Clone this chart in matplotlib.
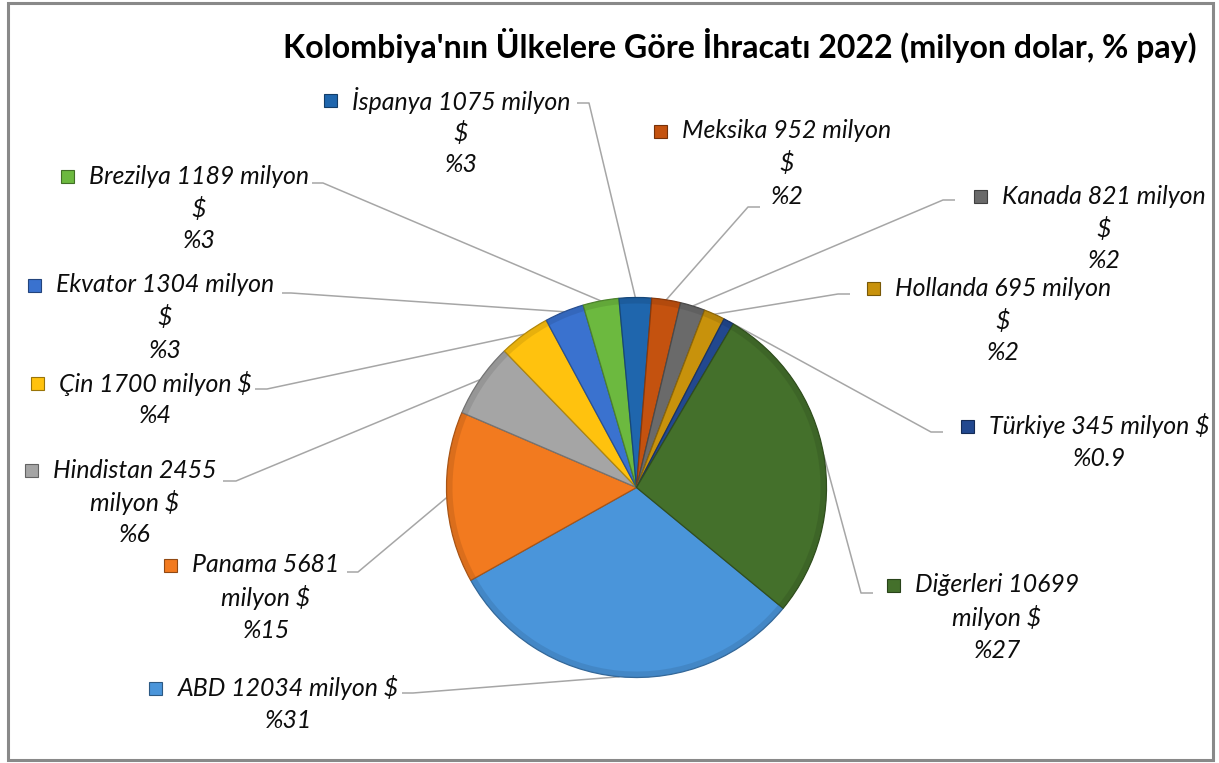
import matplotlib
matplotlib.use("Agg")
import matplotlib.pyplot as plt
from matplotlib.patches import Rectangle, Wedge
import matplotlib.colors as mcolors
import numpy as np

# ---------------- data ----------------
countries = ["ABD", "Panama", "Hindistan", "Çin", "Ekvator", "Brezilya",
             "İspanya", "Meksika", "Kanada", "Hollanda", "Türkiye", "Diğerleri"]
values = [12034, 5681, 2455, 1700, 1304, 1189, 1075, 952, 821, 695, 345, 10699]
shares = ["%31", "%15", "%6", "%4", "%3", "%3", "%3", "%2", "%2", "%2", "%0.9", "%27"]
title = "Kolombiya'nın Ülkelere Göre İhracatı 2022 (milyon dolar, % pay)"

colors = ["#4A95DA", "#F27A1F", "#A5A5A5", "#FFC20E", "#3A72CF", "#6CB93F",
          "#1F66AD", "#C4520F", "#6A6A6A", "#C8920C", "#22488F", "#44702B"]

# ---------------- layout (pixels, from top-left) ----------------
W, H = 1219, 763
CX, CY, R = 636.5, 487.5, 190
# wrap style: 'one' -> "name v milyon $"; 'b' -> "name v milyon" / "$"; 'c' -> "name v" / "milyon $"
wrap = {"ABD": "one", "Panama": "c", "Hindistan": "c", "Çin": "one", "Ekvator": "b",
        "Brezilya": "b", "İspanya": "b", "Meksika": "b", "Kanada": "b", "Hollanda": "b",
        "Türkiye": "one", "Diğerleri": "c"}
# text centre x, first line y
text_pos = {"ABD": (288, 688), "Panama": (266, 565), "Hindistan": (135, 470),
            "Çin": (155, 383), "Ekvator": (165, 285), "Brezilya": (199, 176),
            "İspanya": (461, 100), "Meksika": (787, 131), "Kanada": (1104, 196),
            "Hollanda": (1003, 288), "Türkiye": (1099, 426), "Diğerleri": (997, 585)}
# leader elbow: (x near label, x toward pie, y)
elbow = {"ABD": (402, 413, 693), "Panama": (347, 358, 572), "Hindistan": (223, 236, 481),
         "Çin": (255, 267, 389), "Ekvator": (282, 291, 293), "Brezilya": (312, 323, 183),
         "İspanya": (577, 589, 103), "Meksika": (760, 748, 207), "Kanada": (955, 943, 200),
         "Hollanda": (850, 838, 294), "Türkiye": (943, 931, 432), "Diğerleri": (873, 861, 593)}
LINE_SP = 32.5


def Y(y):
    return H - y


fig = plt.figure(figsize=(W / 100, H / 100), dpi=100)
fig.patch.set_facecolor("white")
ax = fig.add_axes([0, 0, 1, 1])

wedges, _ = ax.pie(values, colors=colors, startangle=-39.5, counterclock=False,
                   center=(CX, Y(CY)), radius=R, frame=True,
                   wedgeprops=dict(linewidth=0.9))
for w, c in zip(wedges, colors):
    rgb = np.array(mcolors.to_rgb(c))
    dark = rgb * 0.7
    w.set_edgecolor(dark)
    # subtle bevel-like rim shading
    ax.add_patch(Wedge((CX, Y(CY)), R, w.theta1, w.theta2, width=6,
                       facecolor=dark, edgecolor="none", alpha=0.3, zorder=w.get_zorder() + 0.1))

ax.set_xlim(0, W)
ax.set_ylim(0, H)
ax.set_aspect("equal")
ax.axis("off")

renderer = fig.canvas.get_renderer()

# font size fitting (label font similar to Calibri italic)
FAM = ["Lato", "DejaVu Sans"]
probe = ax.text(0, 0, "Ekvator 1304 milyon", fontsize=14, style="italic", family=FAM)
pw = probe.get_window_extent(renderer).width
probe.remove()
fs = 14 * 219 / pw

tprobe = ax.text(0, 0, title, fontsize=20, fontweight="bold", family=FAM)
tw = tprobe.get_window_extent(renderer).width
tprobe.remove()
tfs = 20 * 914 / tw

ax.text(1197, Y(45), title, fontsize=tfs, fontweight="bold", family=FAM,
        ha="right", va="center", color="#000000")

for i, (name, val, sh, col, w) in enumerate(zip(countries, values, shares, colors, wedges)):
    st = wrap[name]
    if st == "one":
        lines = [f"{name} {val} milyon $", sh]
    elif st == "b":
        lines = [f"{name} {val} milyon", "$", sh]
    else:
        lines = [f"{name} {val}", "milyon $", sh]
    tx, ty = text_pos[name]
    first = None
    for k, ln in enumerate(lines):
        t = ax.text(tx, Y(ty + k * LINE_SP), ln, fontsize=fs, style="italic", family=FAM,
                    ha="center", va="center", color="#0D0D0D")
        if k == 0:
            first = t
    ext = first.get_window_extent(renderer)
    x0_data = ax.transData.inverted().transform((ext.x0, 0))[0]
    side = 13
    ax.add_patch(Rectangle((x0_data - 15 - side, Y(ty) - side / 2), side, side,
                           facecolor=col, edgecolor=np.array(mcolors.to_rgb(col)) * 0.6,
                           linewidth=0.8))
    # leader line
    mid = np.deg2rad((w.theta1 + w.theta2) / 2)
    px = CX + R * np.cos(mid)
    py = Y(CY) + R * np.sin(mid)
    ex0, ex1, ey = elbow[name]
    ax.plot([ex0, ex1, px], [Y(ey), Y(ey), py], color="#A6A6A6", linewidth=1.1,
            solid_capstyle="butt", zorder=0.5)

# outer border
ax.add_patch(Rectangle((8, Y(760)), 1205, 757, facecolor="none", edgecolor="#898989",
                       linewidth=2.2, zorder=10))

fig.savefig("out.png", dpi=100)
